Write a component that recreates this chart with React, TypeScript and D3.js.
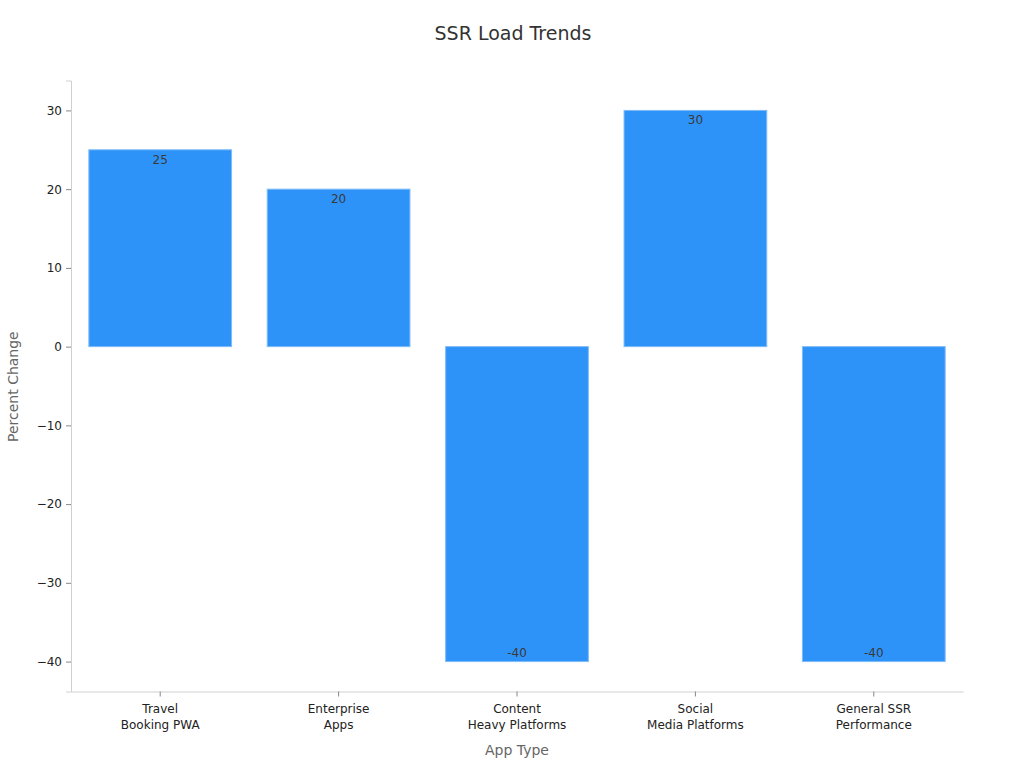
import React, { useRef, useEffect } from 'react';
import * as d3 from 'd3';

const categories = [
  ['Travel', 'Booking PWA'],
  ['Enterprise', 'Apps'],
  ['Content', 'Heavy Platforms'],
  ['Social', 'Media Platforms'],
  ['General SSR', 'Performance'],
];
const values = [25, 20, -40, 30, -40];
const yTicks = [-40, -30, -20, -10, 0, 10, 20, 30];

const W = 1024;
const H = 768;
const FONT = '"DejaVu Sans", sans-serif';

const App = () => {
  const ref = useRef<SVGSVGElement>(null);

  useEffect(() => {
    const svg = d3.select(ref.current);
    svg.selectAll('*').remove();

    const margin = { top: 80.5, right: 61, bottom: 76.5, left: 71 };
    const width = W - margin.left - margin.right;
    const height = H - margin.top - margin.bottom;
    const g = svg.append('g').attr('transform', `translate(${margin.left},${margin.top})`);

    const idx = values.map((_, i) => i);
    const x = d3.scaleBand<number>()
      .domain(idx)
      .range([0, width])
      .paddingInner(0.2)
      .paddingOuter(0.1);

    const y = d3.scaleLinear().domain([-43.8, 33.8]).range([height, 0]);

    // title
    svg.append('text')
      .attr('x', W / 2 + 1)
      .attr('y', 40)
      .attr('text-anchor', 'middle')
      .attr('font-family', FONT)
      .attr('font-size', 19)
      .attr('fill', '#333')
      .text('SSR Load Trends');

    // bars
    g.selectAll('rect.bar')
      .data(idx)
      .enter().append('rect')
      .attr('class', 'bar')
      .attr('x', i => x(i)!)
      .attr('width', x.bandwidth())
      .attr('y', i => y(Math.max(0, values[i])))
      .attr('height', i => Math.abs(y(values[i]) - y(0)))
      .attr('fill', '#2E93F8')
      .attr('stroke', '#7DBBF9')
      .attr('stroke-width', 1);

    // value labels
    g.selectAll('text.val')
      .data(idx)
      .enter().append('text')
      .attr('class', 'val')
      .attr('x', i => x(i)! + x.bandwidth() / 2)
      .attr('y', i => values[i] >= 0 ? y(values[i]) + 14 : y(values[i]) - 5)
      .attr('text-anchor', 'middle')
      .attr('font-family', FONT)
      .attr('font-size', 12)
      .attr('fill', '#3a3a3a')
      .text(i => String(values[i]));

    // y axis
    const yAxis = g.append('g')
      .call(d3.axisLeft(y).tickValues(yTicks).tickSize(5).tickPadding(4)
        .tickFormat(d => d3.format('d')(d as number).replace('-', '\u2212')));
    yAxis.select('.domain').attr('stroke', '#d0d0d0');
    yAxis.selectAll('.tick line').attr('stroke', '#888');
    yAxis.selectAll('.tick text')
      .attr('font-family', FONT)
      .attr('font-size', 12)
      .attr('fill', '#222');

    // x axis
    const xAxis = g.append('g')
      .attr('transform', `translate(0,${height})`)
      .call(d3.axisBottom(x).tickSize(5).tickSizeOuter(0).tickFormat(() => ''));
    xAxis.select('.domain').attr('stroke', '#d0d0d0');
    xAxis.selectAll('.tick line').attr('stroke', '#888');
    xAxis.selectAll<SVGGElement, number>('.tick').each(function (i) {
      const t = d3.select(this).append('text')
        .attr('text-anchor', 'middle')
        .attr('font-family', FONT)
        .attr('font-size', 12)
        .attr('fill', '#222');
      categories[i].forEach((line, k) => {
        t.append('tspan').attr('x', 0).attr('y', 21 + k * 16).text(line);
      });
    });

    // axis titles
    svg.append('text')
      .attr('x', margin.left + width / 2)
      .attr('y', 755)
      .attr('text-anchor', 'middle')
      .attr('font-family', FONT)
      .attr('font-size', 14)
      .attr('fill', '#666')
      .text('App Type');

    svg.append('text')
      .attr('transform', `translate(18,${margin.top + y(0) + 40}) rotate(-90)`)
      .attr('text-anchor', 'middle')
      .attr('font-family', FONT)
      .attr('font-size', 14)
      .attr('fill', '#666')
      .text('Percent Change');
  }, []);

  return (
    <div style={{ position: 'absolute', left: 0, top: 0 }}>
      <svg ref={ref} width={W} height={H} style={{ display: 'block', background: '#fff' }}></svg>
    </div>
  );
};

export default App;
